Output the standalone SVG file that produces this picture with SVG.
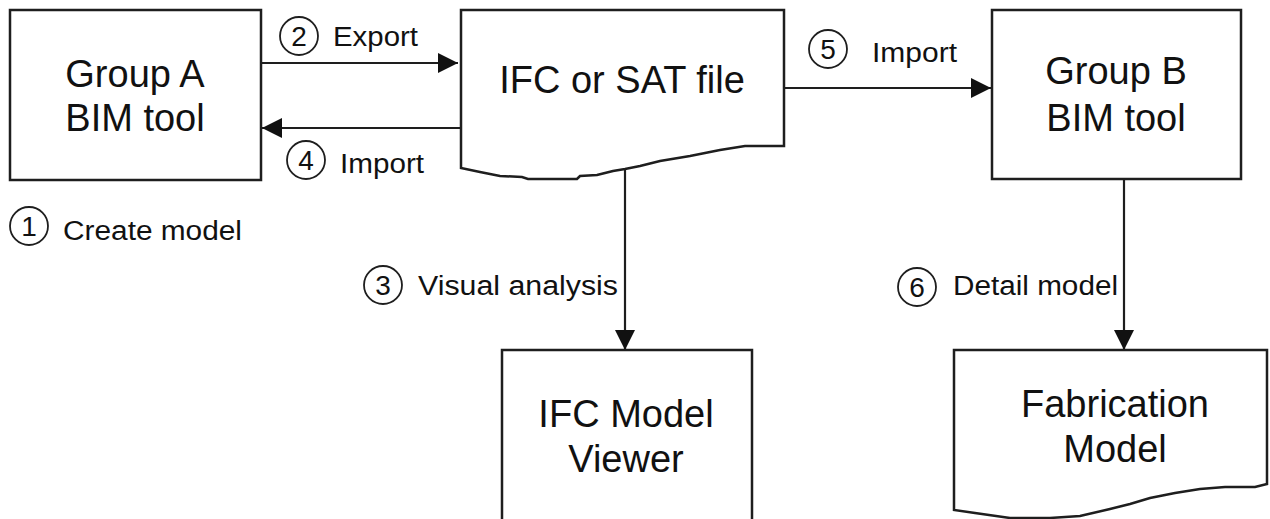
<svg xmlns="http://www.w3.org/2000/svg" width="1270" height="519" viewBox="0 0 1270 519">
  <style>
    .box { fill: #ffffff; stroke: #1e1e1e; stroke-width: 2.5; stroke-linejoin: miter; }
    .node-text { font-family: "Liberation Sans", Arial, sans-serif; font-size: 38px; fill: #111; text-anchor: middle; }
    .label { font-family: "Liberation Sans", Arial, sans-serif; font-size: 27px; fill: #111; }
    .num-ring { fill: #ffffff; stroke: #1e1e1e; stroke-width: 1.8; }
    .num { font-family: "Liberation Sans", Arial, sans-serif; font-size: 28px; fill: #111; text-anchor: middle; }
    .edge { fill: none; stroke: #1e1e1e; stroke-width: 2.2; }
  </style>
  <defs>
    <marker id="arrow" viewBox="0 0 20 20" refX="20" refY="10" markerWidth="20" markerHeight="20" markerUnits="userSpaceOnUse" orient="auto">
      <path d="M0,0 L20,10 L0,20 Z" fill="#111"/>
    </marker>
  </defs>

  <rect width="1270" height="519" fill="#ffffff"/>

  <!-- connectors -->
  <g id="connectors">
    <line class="edge" x1="261" y1="63" x2="458" y2="63" marker-end="url(#arrow)"/>
    <line class="edge" x1="461" y1="128" x2="262" y2="128" marker-end="url(#arrow)"/>
    <line class="edge" x1="784" y1="88" x2="991" y2="88" marker-end="url(#arrow)"/>
    <line class="edge" x1="625" y1="169" x2="625" y2="350" marker-end="url(#arrow)"/>
    <line class="edge" x1="1124" y1="179" x2="1124" y2="350" marker-end="url(#arrow)"/>
  </g>

  <!-- step labels -->
  <g id="step-1">
    <circle class="num-ring" cx="29" cy="226" r="19"/>
    <text class="num" x="29" y="236">1</text>
    <text class="label" x="63" y="240" textLength="179" lengthAdjust="spacingAndGlyphs">Create model</text>
  </g>
  <g id="step-2">
    <circle class="num-ring" cx="299" cy="36" r="19"/>
    <text class="num" x="299" y="46">2</text>
    <text class="label" x="333" y="46" textLength="85" lengthAdjust="spacingAndGlyphs">Export</text>
  </g>
  <g id="step-3">
    <circle class="num-ring" cx="383" cy="285" r="19"/>
    <text class="num" x="383" y="295">3</text>
    <text class="label" x="418" y="295" textLength="200" lengthAdjust="spacingAndGlyphs">Visual analysis</text>
  </g>
  <g id="step-4">
    <circle class="num-ring" cx="306" cy="160" r="19"/>
    <text class="num" x="306" y="170">4</text>
    <text class="label" x="340" y="173" textLength="84" lengthAdjust="spacingAndGlyphs">Import</text>
  </g>
  <g id="step-5">
    <circle class="num-ring" cx="828" cy="49" r="19"/>
    <text class="num" x="828" y="59">5</text>
    <text class="label" x="872" y="62" textLength="85" lengthAdjust="spacingAndGlyphs">Import</text>
  </g>
  <g id="step-6">
    <circle class="num-ring" cx="917" cy="287" r="19"/>
    <text class="num" x="917" y="297">6</text>
    <text class="label" x="953" y="295" textLength="165" lengthAdjust="spacingAndGlyphs">Detail model</text>
  </g>

  <!-- nodes -->
  <g id="group-a">
    <rect class="box" x="10" y="10" width="251" height="170"/>
    <text class="node-text" x="135" y="87">Group A</text>
    <text class="node-text" x="135" y="131">BIM tool</text>
  </g>

  <g id="ifc-file">
    <path class="box" d="M461,10 H784 V146 H745 L720,150 L690,156 L660,161 L640,166 L625,169 L613,171 L597,175 L580,176 L577,179 L528,179 L522,177 L500,176 L480,172 L461,168 Z"/>
    <text class="node-text" x="622" y="93">IFC or SAT file</text>
  </g>

  <g id="group-b">
    <rect class="box" x="992" y="10" width="249" height="169"/>
    <text class="node-text" x="1116" y="84">Group B</text>
    <text class="node-text" x="1116" y="131">BIM tool</text>
  </g>

  <g id="ifc-viewer">
    <rect class="box" x="502" y="350" width="250" height="185"/>
    <text class="node-text" x="626" y="427">IFC Model</text>
    <text class="node-text" x="626" y="472">Viewer</text>
  </g>

  <g id="fabrication-model">
    <path class="box" d="M954,350 H1267 V484 L1255,487 L1225,487 L1200,489 L1175,493 L1150,498 L1130,504 L1110,509 L1080,516 L1050,518 L1010,518 L975,513 L954,510 Z"/>
    <text class="node-text" x="1115" y="417">Fabrication</text>
    <text class="node-text" x="1115" y="462">Model</text>
  </g>
</svg>
